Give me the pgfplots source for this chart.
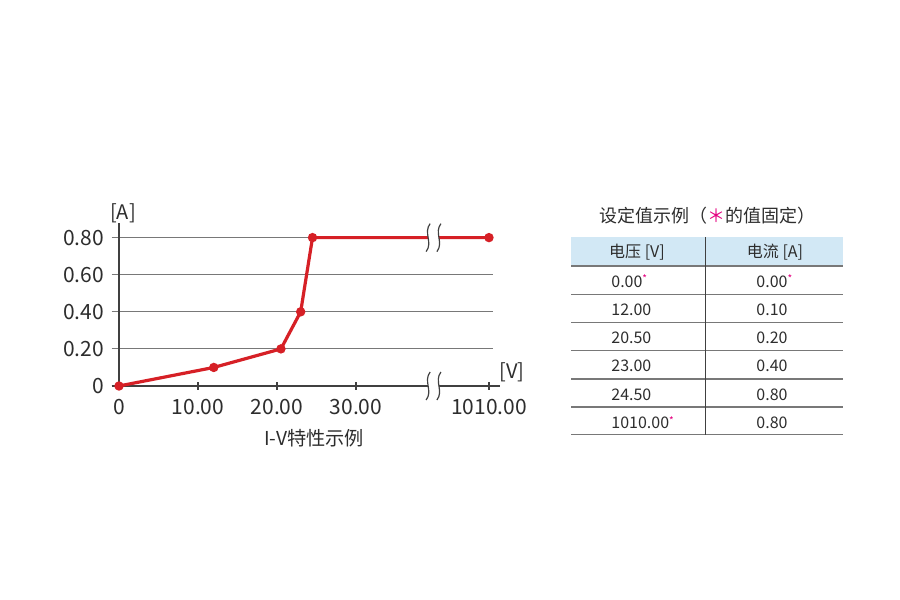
\documentclass[border=0pt]{standalone}
\usepackage{pgfplots}
\pgfplotsset{compat=1.18}
\usepackage{fontspec}
\setmainfont{Noto Sans CJK SC}

\definecolor{ivred}{RGB}{214,32,38}
\definecolor{axgray}{RGB}{64,64,64}
\definecolor{gridgray}{RGB}{120,120,120}
\definecolor{txt}{RGB}{45,45,45}
\definecolor{hdrblue}{RGB}{210,232,245}
\definecolor{mag}{RGB}{228,0,127}

\begin{document}
\begin{tikzpicture}
\path[use as bounding box] (0,0) rectangle (450pt,300pt);

% broken x axis: 1010 V is drawn at x=46.84, the break at x=39.82
\begin{axis}[
    at={(59.5pt,107pt)}, anchor=origin,
    scale only axis, width=190.6pt, height=83pt,
    axis lines=middle, axis line style={-, axgray, line width=0.65pt},
    x axis line style={shorten >=-3.5pt},
    xmin=-0.92, xmax=47.34, ymin=-0.016, ymax=0.879,
    xtick={0,10,20,30,46.84},
    xticklabels={0,10.00,20.00,30.00,1010.00},
    ytick={0,0.2,0.4,0.6,0.8},
    yticklabels={0,0.20,0.40,0.60,0.80},
    hide obscured x ticks=false, hide obscured y ticks=false,
    ymajorgrids, grid style={gridgray, line width=0.5pt},
    tick align=center, major tick length=4pt,
    xtick style={axgray, line width=0.6pt},
    ytick style={draw=none},
    tick label style={font=\fontsize{10.5}{12}\selectfont, text=txt},
    /pgf/number format/assume math mode=true,
    xticklabel style={anchor=north, yshift=-1pt},
    yticklabel style={anchor=east, xshift=-2pt},
    clip=false,
]
\addplot[ivred, line width=1.6pt, mark=*, mark size=1.5pt,
    mark options={solid, fill=ivred, draw=ivred}]
    coordinates {(0,0) (12,0.10) (20.5,0.20) (23,0.40) (24.5,0.80) (46.84,0.80)};

\coordinate (b1) at (axis cs:39.82,0.8);
\coordinate (b0) at (axis cs:39.82,0);
\fill[white] ([xshift=-2.7pt,yshift=-1.3pt]b1) rectangle ([xshift=2.7pt,yshift=1.3pt]b1);
\fill[white] ([xshift=-2.7pt,yshift=-1.3pt]b0) rectangle ([xshift=2.7pt,yshift=1.3pt]b0);
\draw[axgray, line width=0.6pt]
    ([xshift=-1.7pt,yshift=7pt]b1) .. controls ([xshift=-5.2pt,yshift=2.5pt]b1) and ([xshift=-0.2pt,yshift=-2.5pt]b1) .. ([xshift=-3.7pt,yshift=-7pt]b1)
    ([xshift=3.7pt,yshift=7pt]b1) .. controls ([xshift=0.2pt,yshift=2.5pt]b1) and ([xshift=5.2pt,yshift=-2.5pt]b1) .. ([xshift=1.7pt,yshift=-7pt]b1)
    ([xshift=-1.7pt,yshift=7pt]b0) .. controls ([xshift=-5.2pt,yshift=2.5pt]b0) and ([xshift=-0.2pt,yshift=-2.5pt]b0) .. ([xshift=-3.7pt,yshift=-7pt]b0)
    ([xshift=3.7pt,yshift=7pt]b0) .. controls ([xshift=0.2pt,yshift=2.5pt]b0) and ([xshift=5.2pt,yshift=-2.5pt]b0) .. ([xshift=1.7pt,yshift=-7pt]b0);
\end{axis}

\begin{scope}[shift={(0,300pt)}, x=0.5pt, y=-0.5pt]
  % chart labels
  \node[text=txt, font=\fontsize{10}{12}\selectfont] at (123,213) {[A]};
  \node[text=txt, font=\fontsize{10}{12}\selectfont] at (512,372) {[V]};
  \node[text=txt, font=\fontsize{9.6}{11}\selectfont] at (314,438) {I-V特性示例};

  % settings table
  \node[text=txt, font=\fontsize{9}{11}\selectfont] at (707,216)
      {设定值示例（{\color{mag}＊}的值固定）};
  \fill[hdrblue] (571,237) rectangle (843,266);
  \foreach \yy in {266,294.3,322.7,350.7,379,407,434.3}
      \draw[gridgray, line width=0.6pt] (571,\yy) -- (843,\yy);
  \draw[axgray, line width=0.65pt] (705.7,237) -- (705.7,435);
  \begin{scope}[every node/.style={text=txt, font=\fontsize{8}{10}\selectfont}]
    \node at (637,252) {电压 [V]};
    \node at (775,252) {电流 [A]};
    \node[anchor=west, inner sep=0pt] at (611,281)   {0.00\rlap{\raisebox{0.5ex}{\color{mag}\tiny *}}};
    \node[anchor=west, inner sep=0pt] at (611,309.3) {12.00};
    \node[anchor=west, inner sep=0pt] at (611,337.7) {20.50};
    \node[anchor=west, inner sep=0pt] at (611,366)   {23.00};
    \node[anchor=west, inner sep=0pt] at (611,394.3) {24.50};
    \node[anchor=west, inner sep=0pt] at (611,422.7) {1010.00\rlap{\raisebox{0.5ex}{\color{mag}\tiny *}}};
    \node at (772,281)   {0.00\rlap{\raisebox{0.5ex}{\color{mag}\tiny *}}};
    \node at (772,309.3) {0.10};
    \node at (772,337.7) {0.20};
    \node at (772,366)   {0.40};
    \node at (772,394.3) {0.80};
    \node at (772,422.7) {0.80};
  \end{scope}
\end{scope}
\end{tikzpicture}
\end{document}
